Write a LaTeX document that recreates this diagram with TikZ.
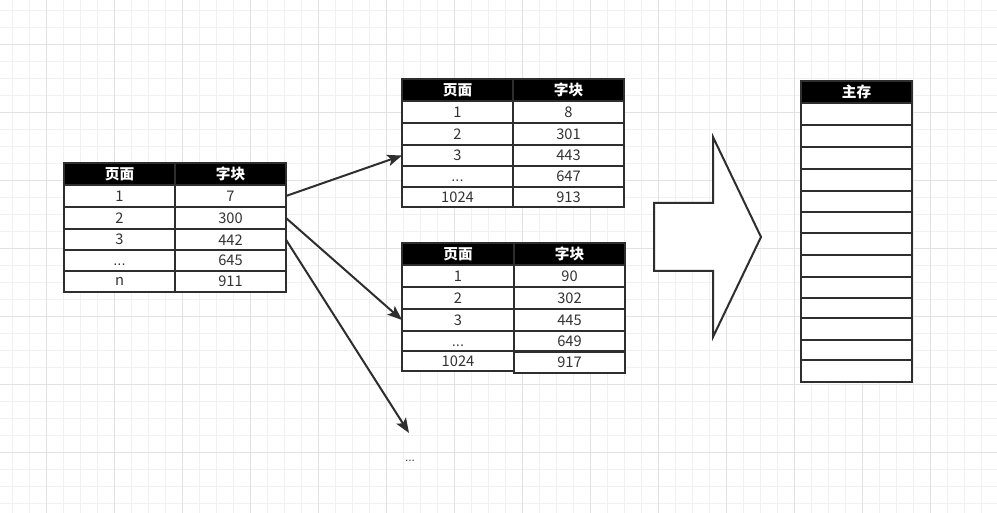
\documentclass[tikz,border=0pt]{standalone}
\usepackage{fontspec}
\setmainfont{Noto Sans CJK SC}
\newfontfamily\latinfont{Liberation Sans}
\usetikzlibrary{arrows.meta}
\definecolor{ln}{HTML}{2E2E2E}
\definecolor{txt}{HTML}{333333}
\definecolor{gridminor}{HTML}{F1F1F1}
\definecolor{gridmajor}{HTML}{E2E2E2}

% ellipsis used as a label, with its dots on the baseline of the digits
\newcommand{\ellip}{\vphantom{0}{\latinfont ...}}

% one table cell spanning (x1,y1)-(x2,y2), in pixel units
\newcommand{\tcell}[7]{%
  \pgfmathsetmacro{\cellw}{(#5-#3)*0.75}%
  \pgfmathsetmacro{\cellh}{(#6-#4)*0.75}%
  \node[#1, minimum width=\cellw pt, minimum height=\cellh pt] (#2) at ({(#3+#5)/2},{(#4+#6)/2}) {#7};%
}

\tikzset{
  cellbox/.style={draw=ln, line width=1.5pt, fill=white, inner sep=0pt, outer sep=0pt,
    text=txt, font=\fontsize{11pt}{13pt}\selectfont},
  headbox/.style={cellbox, fill=black, text=white, font=\fontsize{11pt}{13pt}\selectfont\bfseries},
  conn/.style={draw=ln, line width=1.5pt, -{Stealth[length=11pt,width=8.5pt,inset=2.5pt]}},
  bigarrow/.style={draw=ln, line width=1.5pt, fill=white, line join=miter},
}

\begin{document}
\begin{tikzpicture}[x=0.75pt, y=-0.75pt]
\useasboundingbox (0,0) rectangle (997,513);
\fill[white] (0,0) rectangle (997,513);

% background grid
\foreach \x in {12,29,...,997} \draw[gridminor, line width=0.75pt] (\x,0) -- (\x,513);
\foreach \y in {10.3,27.3,...,513} \draw[gridminor, line width=0.75pt] (0,\y) -- (997,\y);
\foreach \x in {46,114,...,997} \draw[gridmajor, line width=0.75pt] (\x,0) -- (\x,513);
\foreach \y in {44.3,112.3,...,513} \draw[gridmajor, line width=0.75pt] (0,\y) -- (997,\y);

% first-level page table
\tcell{headbox}{Lph}{64}{163}{175}{185}{页面}
\tcell{headbox}{Lbh}{175}{163}{286}{185}{字块}
\foreach \i/\ya/\yb/\p/\b in {1/185/207/1/7, 2/207/229/2/300, 3/229/250.5/3/442, 4/250.5/271/\ellip/645, 5/271/292/n/911} {
  \tcell{cellbox}{Lp\i}{64}{\ya}{175}{\yb}{\p}
  \tcell{cellbox}{Lb\i}{175}{\ya}{286}{\yb}{\b}
}

% second-level page table (upper)
\tcell{headbox}{Tph}{402}{79}{513}{101}{页面}
\tcell{headbox}{Tbh}{513}{79}{624}{101}{字块}
\foreach \i/\ya/\yb/\p/\b in {1/101/123/1/8, 2/123/145/2/301, 3/145/166/3/443, 4/166/187/\ellip/647, 5/187/207.5/1024/913} {
  \tcell{cellbox}{Tp\i}{402}{\ya}{513}{\yb}{\p}
  \tcell{cellbox}{Tb\i}{513}{\ya}{624}{\yb}{\b}
}

% second-level page table (lower)
\tcell{headbox}{Bph}{402}{243}{514}{265}{页面}
\tcell{headbox}{Bbh}{514}{243}{625}{265}{字块}
\foreach \i/\ya/\yb/\p/\b in {1/265/287/1/90, 2/287/309/2/302, 3/309/331/3/445, 4/331/351/\ellip/649} {
  \tcell{cellbox}{Bp\i}{402}{\ya}{514}{\yb}{\p}
  \tcell{cellbox}{Bb\i}{514}{\ya}{625}{\yb}{\b}
}
\tcell{cellbox}{Bp5}{402}{351}{514}{371}{1024}
\tcell{cellbox}{Bb5}{514}{352}{625}{373}{917}

% main memory
\tcell{headbox}{Mh}{801}{81}{912}{103}{主存}
\foreach \i/\ya/\yb in {1/103/125, 2/125/147, 3/147/169, 4/169/191, 5/191/212, 6/212/233, 7/233/255, 8/255/277, 9/277/298, 10/298/318, 11/318/340, 12/340/360, 13/360/382} {
  \tcell{cellbox}{M\i}{801}{\ya}{912}{\yb}{}
}

% block arrow towards memory
\draw[bigarrow] (654,203) -- (713,203) -- (713,137) -- (761,237) -- (713,337) -- (713,271) -- (654,271) -- cycle;

% links from the first-level table
\coordinate (more) at (409,433);
\node[text=txt, font=\fontsize{9pt}{10pt}\selectfont, inner sep=0pt] (dots) at (410,457) {\ellip};
\draw[conn] (Lb1.east) -- (Tp3.west);
\draw[conn] (Lb2.east) -- (Bp3.west);
\draw[conn] (Lb3.east) -- (more);
\end{tikzpicture}
\end{document}
